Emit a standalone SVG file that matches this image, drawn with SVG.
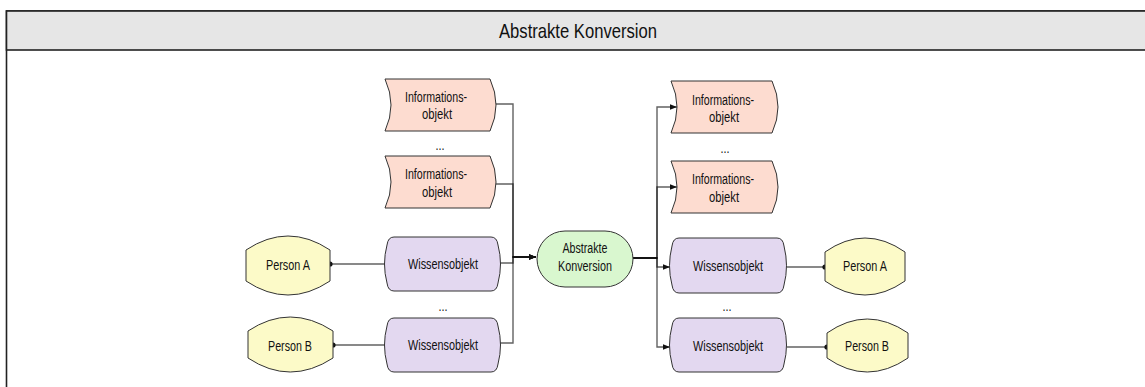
<svg xmlns="http://www.w3.org/2000/svg" width="1145" height="387" viewBox="0 0 1145 387">
<style>
text{font-family:"Liberation Sans Narrow","Arial Narrow","Liberation Sans",Arial,sans-serif;fill:#111;text-anchor:middle}
.t{font-size:14px}
.info{fill:#fddcd0;stroke:#333;stroke-width:1}
.wo{fill:#e3d8f0;stroke:#333;stroke-width:1}
.per{fill:#fcfac8;stroke:#333;stroke-width:1}
.fn{fill:#d9f7cf;stroke:#333;stroke-width:1}
.c{fill:none;stroke:#000;stroke-opacity:0.62;stroke-width:1.4}
</style>
<defs>
<marker id="ar" markerWidth="8" markerHeight="8" refX="7" refY="4" orient="auto" markerUnits="userSpaceOnUse">
<path d="M0,1.2 L7,4 L0,6.8 Z" fill="#111"/>
</marker>
</defs>
<rect x="0" y="0" width="1145" height="387" fill="#fff"/>
<g id="frame">
<rect x="6.5" y="11" width="1150" height="390" fill="#fff" stroke="#222" stroke-width="1.6"/>
<rect x="6.5" y="11" width="1150" height="39" fill="#e6e6e6" stroke="#222" stroke-width="1.6"/>
<text x="578" y="37.5" style="font-size:21px" textLength="158" lengthAdjust="spacingAndGlyphs">Abstrakte Konversion</text>
</g>
<g id="connectors">
<path class="c" d="M496,104 H513 V257 H536" marker-end="url(#ar)"/>
<path class="c" d="M496,184 H513 V257 H536" marker-end="url(#ar)"/>
<path class="c" d="M500,263 H513 V257 H536" marker-end="url(#ar)"/>
<path class="c" d="M500,343 H513 V257 H536" marker-end="url(#ar)"/>
<path class="c" d="M633,258 H657 V107 H677" marker-end="url(#ar)"/>
<path class="c" d="M633,258 H657 V187 H677" marker-end="url(#ar)"/>
<path class="c" d="M633,258 H657 V267 H670" marker-end="url(#ar)"/>
<path class="c" d="M633,258 H657 V347 H670" marker-end="url(#ar)"/>
<path class="c" d="M330,264 H385"/>
<path class="c" d="M333,345 H385"/>
<path class="c" d="M787,267 H825"/>
<path class="c" d="M787,347 H827"/>
<circle cx="330" cy="264" r="2.6" fill="#111"/>
<circle cx="333" cy="345" r="2.6" fill="#111"/>
<circle cx="825" cy="267" r="2.6" fill="#111"/>
<circle cx="827" cy="347" r="2.6" fill="#111"/>
</g>
<g id="info-l1">
<path class="info" d="M385,79 H490 Q502,105 490,131 H385 Q397,105 385,79 Z"/>
<text class="t" x="436" y="102" textLength="62" lengthAdjust="spacingAndGlyphs">Informations-</text>
<text class="t" x="437" y="118.5" textLength="30" lengthAdjust="spacingAndGlyphs">objekt</text>
</g>
<text id="dots-l1" class="t" x="440" y="150" textLength="9" lengthAdjust="spacingAndGlyphs">...</text>
<g id="info-l2">
<path class="info" d="M385,156 H490 Q502,182 490,208 H385 Q397,182 385,156 Z"/>
<text class="t" x="436" y="179" textLength="62" lengthAdjust="spacingAndGlyphs">Informations-</text>
<text class="t" x="437" y="196.5" textLength="30" lengthAdjust="spacingAndGlyphs">objekt</text>
</g>
<g id="person-l1">
<path class="per" d="M246,250 Q288,222 330,250 V281 Q288,309 246,281 Z"/>
<text class="t" x="288" y="269.5" textLength="44" lengthAdjust="spacingAndGlyphs">Person A</text>
</g>
<g id="person-l2">
<path class="per" d="M248,331 Q290,303 333,331 V358 Q290,386 248,358 Z"/>
<text class="t" x="290" y="350.5" textLength="44" lengthAdjust="spacingAndGlyphs">Person B</text>
</g>
<g id="wo-l1">
<path class="wo" d="M394,237 H491 Q497,237 498,245 Q503,264 498,283 Q497,291 491,291 H394 Q388,291 387,283 Q382,264 387,245 Q388,237 394,237 Z"/>
<text class="t" x="443" y="268.5" textLength="70" lengthAdjust="spacingAndGlyphs">Wissensobjekt</text>
</g>
<text id="dots-l2" class="t" x="443" y="311" textLength="9" lengthAdjust="spacingAndGlyphs">...</text>
<g id="wo-l2">
<path class="wo" d="M394,318 H491 Q497,318 498,326 Q503,345 498,364 Q497,372 491,372 H394 Q388,372 387,364 Q382,345 387,326 Q388,318 394,318 Z"/>
<text class="t" x="443" y="349.5" textLength="70" lengthAdjust="spacingAndGlyphs">Wissensobjekt</text>
</g>
<g id="fn-abstrakte-konversion">
<rect class="fn" x="537" y="231" width="96" height="56" rx="28" ry="28"/>
<text class="t" x="585" y="252.5" textLength="45" lengthAdjust="spacingAndGlyphs">Abstrakte</text>
<text class="t" x="585" y="270.5" textLength="54" lengthAdjust="spacingAndGlyphs">Konversion</text>
</g>
<g id="info-r1">
<path class="info" d="M671,81 H772 Q784,107 772,133 H671 Q683,107 671,81 Z"/>
<text class="t" x="723" y="105" textLength="62" lengthAdjust="spacingAndGlyphs">Informations-</text>
<text class="t" x="724" y="121.5" textLength="30" lengthAdjust="spacingAndGlyphs">objekt</text>
</g>
<text id="dots-r1" class="t" x="725" y="153" textLength="9" lengthAdjust="spacingAndGlyphs">...</text>
<g id="info-r2">
<path class="info" d="M671,161 H772 Q784,187 772,213 H671 Q683,187 671,161 Z"/>
<text class="t" x="723" y="184" textLength="62" lengthAdjust="spacingAndGlyphs">Informations-</text>
<text class="t" x="724" y="201.5" textLength="30" lengthAdjust="spacingAndGlyphs">objekt</text>
</g>
<g id="wo-r1">
<path class="wo" d="M679,238 H777 Q783,238 784,246 Q789,266 784,285 Q783,293 777,293 H679 Q673,293 672,285 Q667,266 672,246 Q673,238 679,238 Z"/>
<text class="t" x="728" y="270.5" textLength="70" lengthAdjust="spacingAndGlyphs">Wissensobjekt</text>
</g>
<text id="dots-r2" class="t" x="727" y="311" textLength="9" lengthAdjust="spacingAndGlyphs">...</text>
<g id="wo-r2">
<path class="wo" d="M679,318 H777 Q783,318 784,326 Q789,345 784,364 Q783,372 777,372 H679 Q673,372 672,364 Q667,345 672,326 Q673,318 679,318 Z"/>
<text class="t" x="728" y="350.5" textLength="70" lengthAdjust="spacingAndGlyphs">Wissensobjekt</text>
</g>
<g id="person-r1">
<path class="per" d="M825,252 Q865,224 905,252 V281 Q865,309 825,281 Z"/>
<text class="t" x="865" y="270.5" textLength="44" lengthAdjust="spacingAndGlyphs">Person A</text>
</g>
<g id="person-r2">
<path class="per" d="M827,333 Q867,305 908,333 V358 Q867,386 827,358 Z"/>
<text class="t" x="867" y="350.5" textLength="44" lengthAdjust="spacingAndGlyphs">Person B</text>
</g>
</svg>
